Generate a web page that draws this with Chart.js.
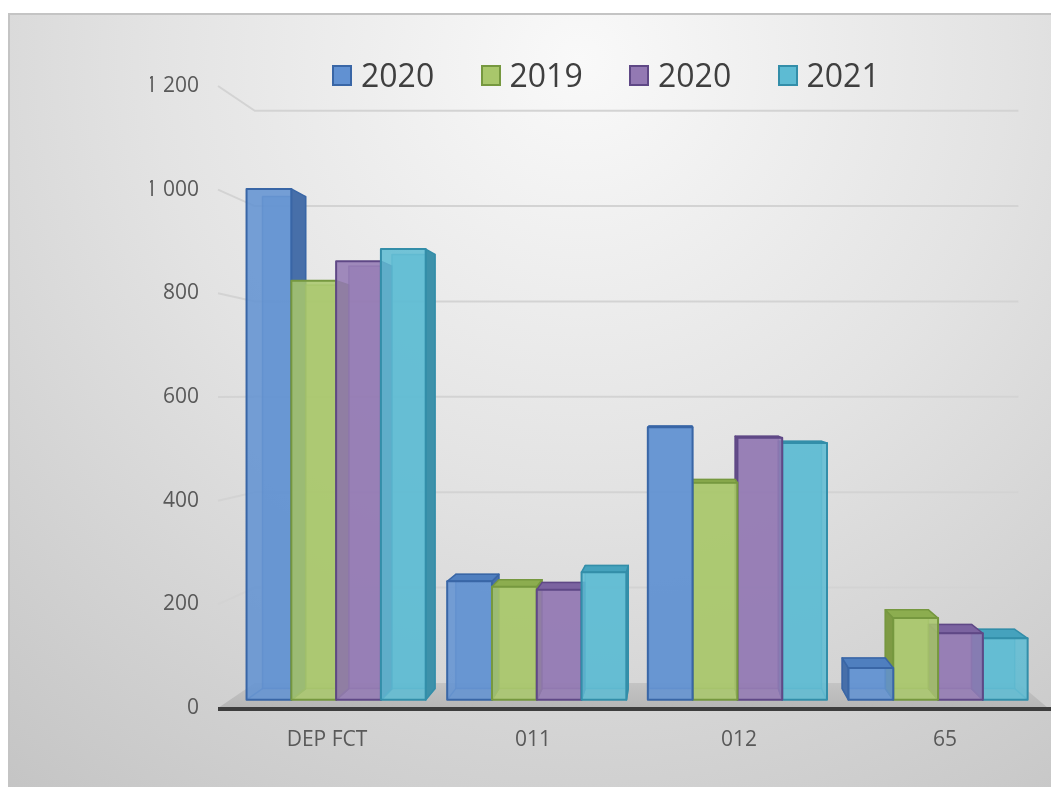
<!DOCTYPE html>
<html lang="fr">
<head>
  <meta charset="UTF-8" />
  <title>Dépenses par chapitre</title>
  <script src="https://cdn.jsdelivr.net/npm/chart.js@4.4.0/dist/chart.umd.min.js"></script>
  <style>
    html, body { margin: 0; padding: 0; background: #fff; }
    .chart-wrapper { position: relative; width: 1051px; height: 787px; }
    .legend {
      position: absolute; left: 332px; top: 55px;
      display: flex; align-items: center;
      font-family: 'Open Sans', 'Noto Sans', sans-serif; color: #3f3f3f;
    }
    .legend-item { display: flex; align-items: center; width: 148.5px; height: 40px; }
    .legend-box { width: 16px; height: 17px; box-sizing: content-box; border: 2px solid; margin-top: 1px; }
    .legend-text { font-size: 32px; line-height: 40px; margin-left: 9px; }
  </style>
</head>

<body>
  <div class="chart-wrapper">
    <canvas id="bar-chart"></canvas>
    <div class="legend" id="legend"></div>
  </div>

<script>
  // chart data
  const categories = ['DEP FCT', '011', '012', '65'];
  const seriesLabels = ['2020', '2019', '2020', '2021'];
  const values2020a = [1012, 235, 540, 63];
  const values2019 = [830, 224, 430, 162];
  const values2020b = [869, 218, 519, 132];
  const values2021 = [893, 253, 509, 122];
  const yTicksMax = 1200;
  const yTicksStep = 200;

  // bar colours: front, side, top, edge
  const faceColors = ['#6191d2', '#a9c76b', '#9379b3', '#5dbbd3'];
  const sideColors = ['#476fa9', '#7e9b44', '#6b568e', '#3d91aa'];
  const topColors = ['#4f7fbf', '#8cad4f', '#7b63a0', '#45a2bd'];
  const edgeColors = ['#3966a6', '#76983f', '#5f4886', '#338ea9'];

  Chart.defaults.font.family = "'Open Sans', 'Noto Sans', sans-serif";

  // perspective: depth factors towards the vanishing point
  const WALL_K = 0.92;
  const FRONT_K = 0.974;
  const BACK_K = 0.938;

  function vanishing(ca) {
    return { x: ca.left + 0.551 * ca.width, y: ca.top + 0.497 * ca.height };
  }

  function proj(v, x, y, k) {
    return [v.x + (x - v.x) * k, v.y + (y - v.y) * k];
  }

  function poly(ctx, pts, fill, stroke, lw) {
    ctx.beginPath();
    ctx.moveTo(pts[0][0], pts[0][1]);
    for (let i = 1; i < pts.length; i++) ctx.lineTo(pts[i][0], pts[i][1]);
    ctx.closePath();
    if (fill) { ctx.fillStyle = fill; ctx.fill(); }
    if (stroke) { ctx.strokeStyle = stroke; ctx.lineWidth = lw || 1.5; ctx.stroke(); }
  }

  const bars3d = {
    id: 'bars3d',
    beforeDraw(chart) {
      const { ctx, chartArea: ca, width, height } = chart;
      const yScale = chart.scales.y;
      const v = vanishing(ca);
      ctx.save();
      // page + chart panel
      ctx.fillStyle = '#ffffff';
      ctx.fillRect(0, 0, width, height);
      const bg = ctx.createRadialGradient(580, 60, 0, 580, 60, 950);
      bg.addColorStop(0, '#f9f9f9');
      bg.addColorStop(0.45, '#e3e3e3');
      bg.addColorStop(1, '#c3c3c3');
      ctx.fillStyle = bg;
      ctx.fillRect(9, 14, width - 9, height - 14);
      ctx.strokeStyle = '#c4c4c4';
      ctx.lineWidth = 2;
      ctx.beginPath();
      ctx.moveTo(9, height); ctx.lineTo(9, 14); ctx.lineTo(width, 14);
      ctx.stroke();

      const L0 = ca.left - 6;
      const R0 = ca.right;
      const y0 = yScale.getPixelForValue(0);

      // back wall and side wall grid lines
      ctx.strokeStyle = '#d3d3d3';
      ctx.lineWidth = 2;
      yScale.ticks.forEach(t => {
        if (t.value === 0) return;
        const yf = yScale.getPixelForValue(t.value);
        const bl = proj(v, L0, yf, WALL_K);
        const br = proj(v, R0, yf, WALL_K);
        ctx.beginPath();
        ctx.moveTo(L0, yf);
        ctx.lineTo(bl[0], bl[1]);
        ctx.lineTo(br[0], br[1]);
        ctx.stroke();
      });

      // floor
      const fl = [[L0, y0], [R0, y0], proj(v, R0, y0, WALL_K), proj(v, L0, y0, WALL_K)];
      const fg = ctx.createLinearGradient(0, fl[2][1], 0, y0);
      fg.addColorStop(0, '#c4c4c4');
      fg.addColorStop(1, '#b6b6b6');
      poly(ctx, fl, fg);

      // front axis line
      ctx.strokeStyle = '#3d3d3d';
      ctx.lineWidth = 4;
      ctx.beginPath();
      ctx.moveTo(L0, y0 + 1);
      ctx.lineTo(width, y0 + 1);
      ctx.stroke();
      ctx.restore();
    },
    beforeDatasetDraw() {
      return false;
    },
    afterDatasetsDraw(chart) {
      const { ctx, chartArea: ca } = chart;
      const v = vanishing(ca);
      const boxes = [];
      chart.data.datasets.forEach((ds, i) => {
        chart.getDatasetMeta(i).data.forEach(el => {
          const p = el.getProps(['x', 'y', 'base', 'width'], true);
          boxes.push({ i, ...p });
        });
      });
      // farthest from the vanishing point first
      boxes.sort((a, b) => Math.abs(b.x - v.x) - Math.abs(a.x - v.x));

      ctx.save();
      ctx.lineJoin = 'round';
      boxes.forEach(b => {
        const l = b.x - b.width / 2, r = b.x + b.width / 2;
        const ftl = proj(v, l, b.y, FRONT_K), ftr = proj(v, r, b.y, FRONT_K);
        const fbr = proj(v, r, b.base, FRONT_K), fbl = proj(v, l, b.base, FRONT_K);
        const btl = proj(v, l, b.y, BACK_K), btr = proj(v, r, b.y, BACK_K);
        const bbr = proj(v, r, b.base, BACK_K), bbl = proj(v, l, b.base, BACK_K);
        const edge = edgeColors[b.i];

        // hidden back edges, seen through the glassy front
        ctx.globalAlpha = 0.55;
        poly(ctx, [btl, btr, bbr, bbl], faceColors[b.i], edge, 1.5);
        ctx.beginPath();
        ctx.moveTo(fbl[0], fbl[1]); ctx.lineTo(bbl[0], bbl[1]);
        ctx.moveTo(fbr[0], fbr[1]); ctx.lineTo(bbr[0], bbr[1]);
        ctx.stroke();
        ctx.globalAlpha = 1;

        if (ftr[0] < v.x) poly(ctx, [ftr, btr, bbr, fbr], sideColors[b.i], edge, 1.5);
        if (ftl[0] > v.x) poly(ctx, [ftl, btl, bbl, fbl], sideColors[b.i], edge, 1.5);
        if (ftl[1] > v.y) poly(ctx, [ftl, ftr, btr, btl], topColors[b.i], edge, 1.5);

        ctx.globalAlpha = 0.86;
        poly(ctx, [ftl, ftr, fbr, fbl], faceColors[b.i]);
        ctx.globalAlpha = 1;
        poly(ctx, [ftl, ftr, fbr, fbl], null, edge, 2);
      });
      ctx.restore();
    }
  };

  const seriesValues = [values2020a, values2019, values2020b, values2021];

  const myChart = new Chart(
    document.getElementById('bar-chart').getContext('2d'), {
      type: 'bar',
      data: {
        labels: categories,
        datasets: seriesLabels.map((label, i) => ({
          label: label,
          data: seriesValues[i],
          backgroundColor: faceColors[i],
          borderColor: edgeColors[i],
          categoryPercentage: 0.893,
          barPercentage: 1.0
        }))
      },
      options: {
        responsive: true,
        maintainAspectRatio: false,
        animation: false,
        layout: {
          padding: { left: 150, right: 3, top: 86, bottom: 29 }
        },
        plugins: {
          legend: { display: false },
          tooltip: { enabled: false }
        },
        scales: {
          x: {
            grid: { display: false, drawTicks: false },
            border: { display: false },
            ticks: { color: '#595959', font: { size: 21 }, padding: 19 },
            afterFit: scale => { scale.height = 50; }
          },
          y: {
            min: 0,
            max: yTicksMax,
            grid: { display: false, drawTicks: false },
            border: { display: false },
            ticks: {
              stepSize: yTicksStep,
              color: '#595959',
              font: { size: 21 },
              padding: 25,
              callback: value => String(value).replace(/\B(?=(\d{3})+(?!\d))/g, ' ')
            },
            afterFit: scale => { scale.width = 74; }
          }
        }
      },
      plugins: [bars3d]
    });

  // html legend built from the datasets
  const legend = document.getElementById('legend');
  myChart.data.datasets.forEach((ds, i) => {
    const item = document.createElement('div');
    item.className = 'legend-item';
    const box = document.createElement('span');
    box.className = 'legend-box';
    box.style.background = ds.backgroundColor;
    box.style.borderColor = ds.borderColor;
    const text = document.createElement('span');
    text.className = 'legend-text';
    text.textContent = ds.label;
    item.appendChild(box);
    item.appendChild(text);
    legend.appendChild(item);
  });
</script>
</body>
</html>
